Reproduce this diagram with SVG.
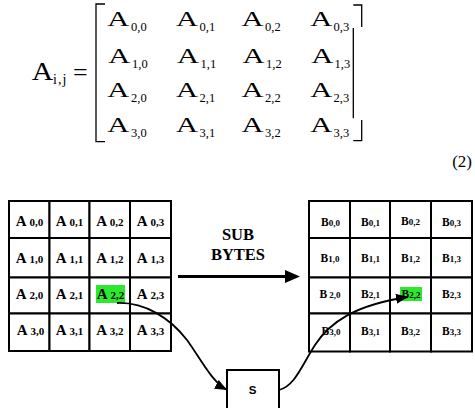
<svg xmlns="http://www.w3.org/2000/svg" width="475" height="408" viewBox="0 0 475 408">
<style>
.m{font-family:"Liberation Serif","Times New Roman",serif;fill:#000}
.ma{font-size:22px}
.ms{font-size:12.5px}
.cell{fill:#fff;stroke:#000;stroke-width:2}
.br{fill:none;stroke:#000;stroke-width:1.3}
.la{font-family:"Liberation Serif","Times New Roman",serif;font-weight:bold;text-anchor:middle;fill:#000}
.big{font-size:15px}
.sm{font-size:11px}
.bb{font-size:11.5px}
.bs{font-size:9px}
.hl{fill:#2ee82e}
.con{fill:none;stroke:#000;stroke-width:1.8}
</style>
<defs>
<marker id="ah" markerUnits="userSpaceOnUse" markerWidth="13" markerHeight="10" refX="12" refY="5" orient="auto">
<path d="M0,0 L12,5 L0,10 z" fill="#000"/>
</marker>
</defs>

<g id="equation">
<text class="m" x="31.7" y="80" font-size="25" textLength="21.5" lengthAdjust="spacingAndGlyphs">A</text>
<text class="m" x="53" y="84" font-size="14" textLength="13.5" lengthAdjust="spacing">i,j</text>
<text class="m" x="73" y="81" font-size="26">=</text>
<path class="br" d="M105,4 H96 V141.7 H105"/>
<path class="br" d="M353.3,5 H361.7 V27 M353.3,28 V118.3 M361.7,120 V140.7 H353.3"/>
<g id="matrix">
<text class="m ma" x="107.3" y="26" textLength="22" lengthAdjust="spacingAndGlyphs">A</text><text class="m ms" x="131" y="30.5">0,0</text>
<text class="m ma" x="176" y="26" textLength="22" lengthAdjust="spacingAndGlyphs">A</text><text class="m ms" x="199.5" y="30.5">0,1</text>
<text class="m ma" x="241.5" y="26" textLength="22" lengthAdjust="spacingAndGlyphs">A</text><text class="m ms" x="265" y="30.5">0,2</text>
<text class="m ma" x="310.3" y="26" textLength="22" lengthAdjust="spacingAndGlyphs">A</text><text class="m ms" x="333.5" y="30.5">0,3</text>

<text class="m ma" x="108.3" y="63" textLength="22" lengthAdjust="spacingAndGlyphs">A</text><text class="m ms" x="132" y="67.5">1,0</text>
<text class="m ma" x="177" y="63" textLength="22" lengthAdjust="spacingAndGlyphs">A</text><text class="m ms" x="200.5" y="67.5">1,1</text>
<text class="m ma" x="242.5" y="63" textLength="22" lengthAdjust="spacingAndGlyphs">A</text><text class="m ms" x="266" y="67.5">1,2</text>
<text class="m ma" x="311.3" y="63" textLength="22" lengthAdjust="spacingAndGlyphs">A</text><text class="m ms" x="334.5" y="67.5">1,3</text>

<text class="m ma" x="107.3" y="97" textLength="22" lengthAdjust="spacingAndGlyphs">A</text><text class="m ms" x="131" y="101.5">2,0</text>
<text class="m ma" x="176" y="97" textLength="22" lengthAdjust="spacingAndGlyphs">A</text><text class="m ms" x="199.5" y="101.5">2,1</text>
<text class="m ma" x="241.5" y="97" textLength="22" lengthAdjust="spacingAndGlyphs">A</text><text class="m ms" x="265" y="101.5">2,2</text>
<text class="m ma" x="310.3" y="97" textLength="22" lengthAdjust="spacingAndGlyphs">A</text><text class="m ms" x="333.5" y="101.5">2,3</text>

<text class="m ma" x="107.3" y="132" textLength="22" lengthAdjust="spacingAndGlyphs">A</text><text class="m ms" x="131" y="136.5">3,0</text>
<text class="m ma" x="176" y="132" textLength="22" lengthAdjust="spacingAndGlyphs">A</text><text class="m ms" x="199.5" y="136.5">3,1</text>
<text class="m ma" x="241.5" y="132" textLength="22" lengthAdjust="spacingAndGlyphs">A</text><text class="m ms" x="265" y="136.5">3,2</text>
<text class="m ma" x="310.3" y="132" textLength="22" lengthAdjust="spacingAndGlyphs">A</text><text class="m ms" x="333.5" y="136.5">3,3</text>
</g>
<text class="m" x="472" y="167" font-size="17" text-anchor="end">(2)</text>
</g>

<g id="state-a">
<rect class="cell" x="9" y="201" width="40.5" height="37"/>
<rect class="cell" x="49.5" y="201" width="40" height="37"/>
<rect class="cell" x="89.5" y="201" width="40.5" height="37"/>
<rect class="cell" x="130" y="201" width="41" height="37"/>
<rect class="cell" x="9" y="238" width="40.5" height="39.5"/>
<rect class="cell" x="49.5" y="238" width="40" height="39.5"/>
<rect class="cell" x="89.5" y="238" width="40.5" height="39.5"/>
<rect class="cell" x="130" y="238" width="41" height="39.5"/>
<rect class="cell" x="9" y="277.5" width="40.5" height="36"/>
<rect class="cell" x="49.5" y="277.5" width="40" height="36"/>
<rect class="cell" x="89.5" y="277.5" width="40.5" height="36"/>
<rect class="cell" x="130" y="277.5" width="41" height="36"/>
<rect class="cell" x="9" y="313.5" width="40.5" height="37.5"/>
<rect class="cell" x="49.5" y="313.5" width="40" height="37.5"/>
<rect class="cell" x="89.5" y="313.5" width="40.5" height="37.5"/>
<rect class="cell" x="130" y="313.5" width="41" height="37.5"/>
<rect class="hl" x="96" y="285" width="29" height="18"/>
<text class="la" x="29.5" y="226"><tspan class="big">A</tspan><tspan class="sm"> 0,0</tspan></text>
<text class="la" x="69.5" y="226"><tspan class="big">A</tspan><tspan class="sm"> 0,1</tspan></text>
<text class="la" x="109.8" y="226"><tspan class="big">A</tspan><tspan class="sm"> 0,2</tspan></text>
<text class="la" x="150.5" y="226"><tspan class="big">A</tspan><tspan class="sm"> 0,3</tspan></text>
<text class="la" x="29.5" y="263"><tspan class="big">A</tspan><tspan class="sm"> 1,0</tspan></text>
<text class="la" x="69.5" y="263"><tspan class="big">A</tspan><tspan class="sm"> 1,1</tspan></text>
<text class="la" x="109.8" y="263"><tspan class="big">A</tspan><tspan class="sm"> 1,2</tspan></text>
<text class="la" x="150.5" y="263"><tspan class="big">A</tspan><tspan class="sm"> 1,3</tspan></text>
<text class="la" x="29.5" y="299"><tspan class="big">A</tspan><tspan class="sm"> 2,0</tspan></text>
<text class="la" x="69.5" y="299"><tspan class="big">A</tspan><tspan class="sm"> 2,1</tspan></text>
<text class="la" x="110.5" y="299" fill="#063"><tspan class="big">A</tspan><tspan class="sm"> 2,2</tspan></text>
<text class="la" x="150.5" y="299"><tspan class="big">A</tspan><tspan class="sm"> 2,3</tspan></text>
<text class="la" x="30.5" y="335"><tspan class="big">A</tspan><tspan class="sm"> 3,0</tspan></text>
<text class="la" x="69.5" y="335"><tspan class="big">A</tspan><tspan class="sm"> 3,1</tspan></text>
<text class="la" x="109.8" y="335"><tspan class="big">A</tspan><tspan class="sm"> 3,2</tspan></text>
<text class="la" x="150.5" y="335"><tspan class="big">A</tspan><tspan class="sm"> 3,3</tspan></text>
</g>

<g id="state-b">
<rect class="cell" x="309" y="201" width="41" height="37"/>
<rect class="cell" x="350" y="201" width="40" height="37"/>
<rect class="cell" x="390" y="201" width="41" height="37"/>
<rect class="cell" x="431" y="201" width="41" height="37"/>
<rect class="cell" x="309" y="238" width="41" height="39.5"/>
<rect class="cell" x="350" y="238" width="40" height="39.5"/>
<rect class="cell" x="390" y="238" width="41" height="39.5"/>
<rect class="cell" x="431" y="238" width="41" height="39.5"/>
<rect class="cell" x="309" y="277.5" width="41" height="36"/>
<rect class="cell" x="350" y="277.5" width="40" height="36"/>
<rect class="cell" x="390" y="277.5" width="41" height="36"/>
<rect class="cell" x="431" y="277.5" width="41" height="36"/>
<rect class="cell" x="309" y="313.5" width="41" height="38"/>
<rect class="cell" x="350" y="313.5" width="40" height="38"/>
<rect class="cell" x="390" y="313.5" width="41" height="38"/>
<rect class="cell" x="431" y="313.5" width="41" height="38"/>
<rect class="hl" x="400" y="287" width="22" height="14"/>
<text class="la" x="330.5" y="225.5"><tspan class="bb">B</tspan><tspan class="bs">0,0</tspan></text>
<text class="la" x="370.5" y="226"><tspan class="bb">B</tspan><tspan class="bs">0,1</tspan></text>
<text class="la" x="410.5" y="225"><tspan class="bb">B</tspan><tspan class="bs">0,2</tspan></text>
<text class="la" x="451.5" y="226"><tspan class="bb">B</tspan><tspan class="bs">0,3</tspan></text>
<text class="la" x="330" y="261.5"><tspan class="bb">B</tspan><tspan class="bs">1,0</tspan></text>
<text class="la" x="370.5" y="262"><tspan class="bb">B</tspan><tspan class="bs">1,1</tspan></text>
<text class="la" x="410.5" y="262"><tspan class="bb">B</tspan><tspan class="bs">1,2</tspan></text>
<text class="la" x="451.5" y="262"><tspan class="bb">B</tspan><tspan class="bs">1,3</tspan></text>
<text class="la" x="330" y="298"><tspan class="bb">B</tspan><tspan class="bs"> 2,0</tspan></text>
<text class="la" x="370.5" y="298"><tspan class="bb">B</tspan><tspan class="bs">2,1</tspan></text>
<text class="la" x="411" y="298" fill="#063"><tspan class="bb">B</tspan><tspan class="bs">2,2</tspan></text>
<text class="la" x="451.5" y="298"><tspan class="bb">B</tspan><tspan class="bs">2,3</tspan></text>
<text class="la" x="331" y="335"><tspan class="bb">B</tspan><tspan class="bs">3,0</tspan></text>
<text class="la" x="370.5" y="335"><tspan class="bb">B</tspan><tspan class="bs">3,1</tspan></text>
<text class="la" x="410.5" y="335"><tspan class="bb">B</tspan><tspan class="bs">3,2</tspan></text>
<text class="la" x="451.5" y="335"><tspan class="bb">B</tspan><tspan class="bs">3,3</tspan></text>
</g>

<g id="sub-bytes-label">
<text class="la" x="238" y="240" font-size="16.5">SUB</text>
<text class="la" x="238" y="260" font-size="16.5">BYTES</text>
</g>

<g id="sbox">
<rect class="cell" x="227" y="370" width="52" height="46"/>
<text x="252.5" y="394" font-family="'Liberation Sans',Arial,sans-serif" font-weight="bold" font-size="11.5" text-anchor="middle">S</text>
</g>

<g id="connectors">
<line x1="178" y1="276.5" x2="286" y2="276.5" stroke="#000" stroke-width="3"/>
<path d="M285,270 L300,276.5 L285,283 z" fill="#000"/>
<path class="con" d="M117,303 C145,302 170,318 187,340 C200,358 212,382 227,390" marker-end="url(#ah)"/>
<path class="con" d="M279,390 C295,386 302,365 315,345 C330,322 355,305 408,297" marker-end="url(#ah)"/>
</g>
</svg>
